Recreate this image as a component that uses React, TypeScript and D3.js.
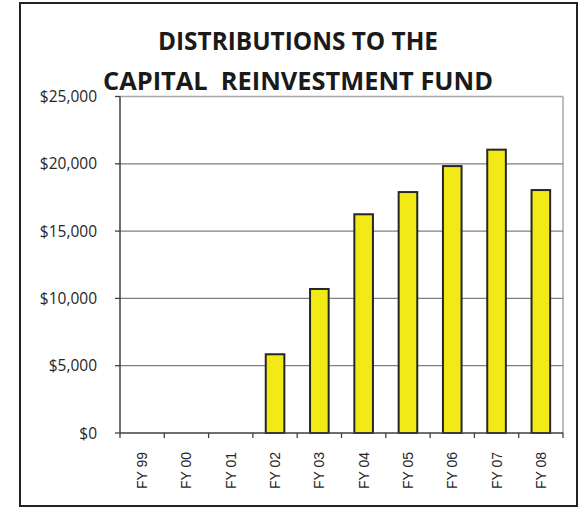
import React from "react";
import * as d3 from "d3";

const categories = ["FY 99", "FY 00", "FY 01", "FY 02", "FY 03", "FY 04", "FY 05", "FY 06", "FY 07", "FY 08"];
const distributions = [0, 0, 0, 5850, 10700, 16250, 17900, 19830, 21050, 18050];
const yTicks = [0, 5000, 10000, 15000, 20000, 25000];
const titleLines = ["DISTRIBUTIONS TO THE", "CAPITAL  REINVESTMENT FUND"];

const W = 581;
const H = 507;
const plot = { left: 120, right: 563, top: 96.5, bottom: 433 };

export default function App() {
  const x = d3.scaleBand<string>().domain(categories).range([plot.left, plot.right]).padding(0);
  const y = d3.scaleLinear().domain([0, 25000]).range([plot.bottom, plot.top]);
  const bw = x.bandwidth() * 0.42;
  const fmt = (v: number) => "$" + d3.format(",")(v);
  const boundaries = categories.map((c) => x(c) as number).concat([plot.right]);

  return (
    <svg
      width={W}
      height={H}
      style={{ position: "absolute", left: 0, top: 0, background: "#fff" }}
    >
      <rect x={0} y={0} width={W} height={H} fill="#fff" />
      {/* outer border */}
      <rect x={20} y={3} width={557} height={503} fill="none" stroke="#222" strokeWidth={2} />

      {/* title */}
      <g fontFamily="'Open Sans', sans-serif" fontWeight="bold" fontSize={25} fill="#1a1a1a" textAnchor="middle">
        <text x={298} y={50} textLength={280} lengthAdjust="spacingAndGlyphs">{titleLines[0]}</text>
        <text x={298} y={90} textLength={390} lengthAdjust="spacingAndGlyphs" style={{ whiteSpace: "pre" }}>
          {titleLines[1]}
        </text>
      </g>

      {/* plot area border (top/right light) */}
      <line x1={plot.left} x2={plot.right} y1={plot.top} y2={plot.top} stroke="#a6a6a6" strokeWidth={1.5} />
      <line x1={plot.right} x2={plot.right} y1={plot.top} y2={plot.bottom} stroke="#a6a6a6" strokeWidth={1.5} />

      {/* gridlines */}
      {yTicks.filter((t) => t > 0 && t < 25000).map((t) => (
        <line key={t} x1={plot.left} x2={plot.right} y1={y(t)} y2={y(t)} stroke="#7f7f7f" strokeWidth={1.3} />
      ))}

      {/* bars */}
      {distributions.map((v, i) =>
        v > 0 ? (
          <rect
            key={categories[i]}
            x={(x(categories[i]) as number) + (x.bandwidth() - bw) / 2}
            y={y(v)}
            width={bw}
            height={y(0) - y(v)}
            fill="#f2ea17"
            stroke="#262626"
            strokeWidth={2}
          />
        ) : null
      )}

      {/* y axis */}
      <line x1={plot.left} x2={plot.left} y1={plot.top} y2={plot.bottom} stroke="#404040" strokeWidth={1.5} />
      {yTicks.map((t) => (
        <g key={t}>
          <line x1={plot.left - 5} x2={plot.left} y1={y(t)} y2={y(t)} stroke="#404040" strokeWidth={1.3} />
          <text
            x={97}
            y={y(t)}
            dy="0.36em"
            textAnchor="end"
            fontFamily="'Open Sans', sans-serif"
            fontSize={15.5}
            fill="#262626"
          >
            {fmt(t)}
          </text>
        </g>
      ))}

      {/* x axis */}
      <line x1={plot.left} x2={plot.right} y1={plot.bottom} y2={plot.bottom} stroke="#404040" strokeWidth={1.5} />
      {boundaries.map((b, i) => (
        <line key={i} x1={b} x2={b} y1={plot.bottom} y2={plot.bottom + 5} stroke="#404040" strokeWidth={1.3} />
      ))}
      {categories.map((c) => {
        const cx = (x(c) as number) + x.bandwidth() / 2;
        return (
          <text
            key={c}
            transform={`translate(${cx + 5},452) rotate(-90)`}
            textAnchor="end"
            fontFamily="'Liberation Sans', Arial, sans-serif"
            fontSize={14}
            fill="#262626"
          >
            {c}
          </text>
        );
      })}
    </svg>
  );
}
